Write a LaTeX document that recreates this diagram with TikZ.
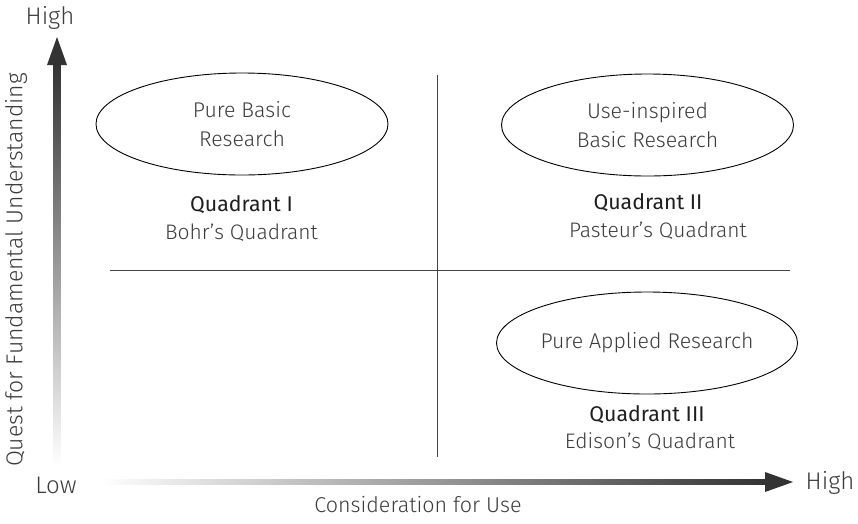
\documentclass[tikz,border=0pt]{standalone}
\usepackage{fontspec}
\setmainfont{Fira Sans}[UprightFont=* Light, BoldFont=*]
\usetikzlibrary{shapes.geometric}
\definecolor{txt}{HTML}{3C3C3C}
\definecolor{ttl}{HTML}{1E1E1E}
\definecolor{axis}{HTML}{333333}
\definecolor{divl}{HTML}{444444}
\tikzset{
  oval/.style={ellipse, draw=black, line width=0.9pt, minimum width=292pt, minimum height=102pt, inner sep=0pt, font=\fontsize{21.3}{29}\selectfont, text=txt, align=center},
  lbl/.style={anchor=base, text=txt, inner sep=0pt, font=\fontsize{21}{25}\selectfont},
  endlbl/.style={anchor=center, text=txt, inner sep=0pt, font=\fontsize{24}{28}\selectfont},
  ttlbl/.style={anchor=base, text=ttl, inner sep=0pt, font=\fontsize{21.3}{25}\selectfont\bfseries},
  divider/.style={draw=divl, line width=1.3pt},
}
\begin{document}
\begin{tikzpicture}[x=1pt,y=-1pt]
\useasboundingbox (0,0) rectangle (858,523);
% axes
\shade[bottom color=white, top color=axis] (53.5,465) rectangle (60.5,64);
\fill[axis] (47,65) -- (67,65) -- (57,37) -- cycle;
\shade[left color=white, right color=axis] (100,479) rectangle (766,484.5);
\fill[axis] (765,472) -- (765,492) -- (793,482) -- cycle;
% dividers
\coordinate (hl) at (110,270.7);
\coordinate (hr) at (790,270.7);
\coordinate (vt) at (437.7,75);
\coordinate (vb) at (437.7,457);
\draw[divider] (hl) -- (hr);
\draw[divider] (vt) -- (vb);
% axis labels
\node[endlbl] (yhigh) at (50,18) {High};
\node[endlbl] (xhigh) at (830,483) {High};
\node[endlbl] (low) at (56,485) {Low};
\node[lbl, anchor=center, font=\fontsize{21.5}{25}\selectfont] (xlab) at (418,505) {Consideration for Use};
\node[lbl, anchor=center, rotate=90, font=\fontsize{23}{27}\selectfont] (ylab) at (16,270) {Quest for Fundamental Understanding};
% ovals
\node[oval] (q1o) at (242,124) {Pure Basic\\Research};
\node[oval] (q2o) at (647.5,125) {Use-inspired\\Basic Research};
\node[oval] (q3o) at (647,343) {Pure Applied Research};
% quadrant labels
\node[ttlbl] (q1t) at (241.5,211) {Quadrant I};
\node[lbl] (q1n) at (241.5,239) {Bohr’s Quadrant};
\node[ttlbl] (q2t) at (648,209) {Quadrant II};
\node[lbl] (q2n) at (658,237) {Pasteur’s Quadrant};
\node[ttlbl] (q3t) at (647,421) {Quadrant III};
\node[lbl] (q3n) at (650,448) {Edison’s Quadrant};
\end{tikzpicture}
\end{document}
